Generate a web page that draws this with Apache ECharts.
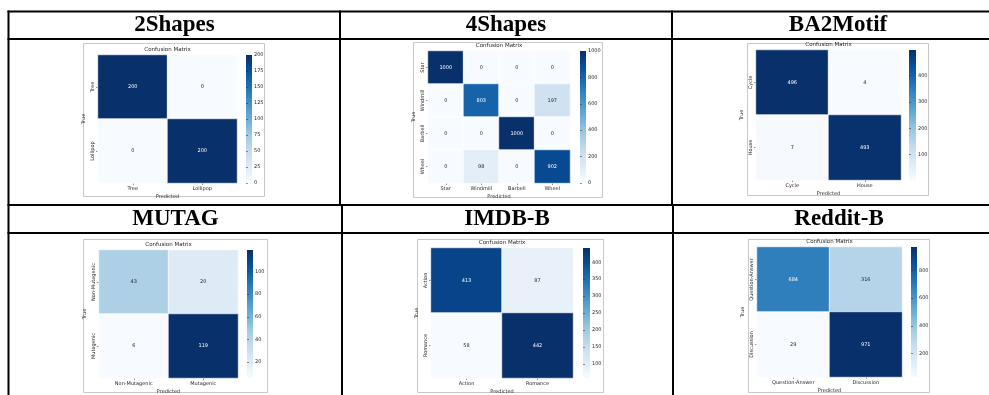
<!DOCTYPE html>
<html>
<head>
<meta charset="utf-8">
<script src="https://cdn.jsdelivr.net/npm/echarts@6/dist/echarts.min.js"></script>
<style>
  html, body { margin: 0; padding: 0; background: #fff; }
  #chart { width: 989px; height: 395px; }
</style>
</head>
<body>
<div id="chart"></div>
<script>
// Dataset captions shown in the table header cells
const datasetNames = ['2Shapes', '4Shapes', 'BA2Motif', 'MUTAG', 'IMDB-B', 'Reddit-B'];

// Class labels and confusion matrices (rows = true class, columns = predicted class)
const shapes2Labels = ['Tree', 'Lollipop'];
const shapes2Matrix = [[200, 0], [0, 200]];

const shapes4Labels = ['Star', 'Windmill', 'Barbell', 'Wheel'];
const shapes4Matrix = [[1000, 0, 0, 0], [0, 803, 0, 197], [0, 0, 1000, 0], [0, 98, 0, 902]];

const ba2Labels = ['Cycle', 'House'];
const ba2Matrix = [[496, 4], [7, 493]];

const mutagLabels = ['Non-Mutagenic', 'Mutagenic'];
const mutagMatrix = [[43, 20], [6, 119]];

const imdbLabels = ['Action', 'Romance'];
const imdbMatrix = [[413, 87], [58, 442]];

const redditLabels = ['Question-Answer', 'Discussion'];
const redditMatrix = [[684, 316], [29, 971]];

// Colorbar tick labels
const shapes2Ticks = [0, 25, 50, 75, 100, 125, 150, 175, 200];
const shapes4Ticks = [0, 200, 400, 600, 800, 1000];
const ba2Ticks = [100, 200, 300, 400];
const mutagTicks = [20, 40, 60, 80, 100];
const imdbTicks = [100, 150, 200, 250, 300, 350, 400];
const redditTicks = [200, 400, 600, 800];

const panels = [
  { labels: shapes2Labels, matrix: shapes2Matrix, ticks: shapes2Ticks },
  { labels: shapes4Labels, matrix: shapes4Matrix, ticks: shapes4Ticks },
  { labels: ba2Labels, matrix: ba2Matrix, ticks: ba2Ticks },
  { labels: mutagLabels, matrix: mutagMatrix, ticks: mutagTicks },
  { labels: imdbLabels, matrix: imdbMatrix, ticks: imdbTicks },
  { labels: redditLabels, matrix: redditMatrix, ticks: redditTicks }
];

// Placement of each figure: heatmap box [left, top, width, height],
// colorbar [left, width], outer frame [x, y, w, h]
const placement = [
  { box: [98, 55, 139, 128], bar: [246, 6], frame: [83, 43, 181, 153] },
  { box: [428, 51, 142, 132], bar: [580, 6], frame: [413, 42, 189, 155] },
  { box: [756, 50, 145, 130], bar: [909, 7], frame: [747, 43, 181, 152] },
  { box: [99, 250, 139, 128], bar: [247, 6], frame: [83, 239, 184, 153] },
  { box: [431, 248, 142, 130], bar: [583, 7], frame: [417, 239, 186, 153] },
  { box: [757, 247, 145, 130], bar: [911, 6], frame: [748, 239, 181, 153] }
];

// Table header centres
const headerCentres = [[174.5, 25], [506, 25], [838, 25], [175.5, 219], [507, 219], [839, 219]];

const blues = ['#f7fbff', '#deebf7', '#c6dbef', '#9ecae1', '#6baed6', '#4292c6', '#2171b5', '#08519c', '#08306b'];
const FONT = 'DejaVu Sans';
const TXT = '#262626';

const grids = [], xAxes = [], yAxes = [], series = [], visualMaps = [], graphics = [];

panels.forEach((p, i) => {
  const pl = placement[i];
  const [left, top, width, height] = pl.box;
  const flat = p.matrix.flat();
  const vmin = Math.min(...flat), vmax = Math.max(...flat);

  // heatmap grid
  grids.push({ left, top, width, height });
  // colorbar axis grid
  grids.push({ left: pl.bar[0], top, width: pl.bar[1], height });

  xAxes.push({
    type: 'category', gridIndex: 2 * i, data: p.labels, position: 'bottom',
    name: 'Predicted', nameLocation: 'middle', nameGap: 11,
    nameTextStyle: { fontFamily: FONT, fontSize: 5, color: TXT },
    axisLine: { show: false }, splitLine: { show: false },
    axisTick: { show: true, alignWithLabel: true, length: 2, lineStyle: { color: TXT, width: 0.5 } },
    axisLabel: { fontFamily: FONT, fontSize: 5, color: TXT, margin: 3 }
  });
  xAxes.push({ type: 'value', gridIndex: 2 * i + 1, show: false, min: 0, max: 1 });

  yAxes.push({
    type: 'category', gridIndex: 2 * i, data: p.labels, inverse: true,
    name: 'True', nameLocation: 'middle', nameGap: 12, nameRotate: 90,
    nameTextStyle: { fontFamily: FONT, fontSize: 5, color: TXT },
    axisLine: { show: false }, splitLine: { show: false },
    axisTick: { show: true, alignWithLabel: true, length: 2, lineStyle: { color: TXT, width: 0.5 } },
    axisLabel: { fontFamily: FONT, fontSize: 5, color: TXT, margin: 3, rotate: 90 }
  });
  yAxes.push({
    type: 'value', gridIndex: 2 * i + 1, position: 'right', min: vmin, max: vmax,
    axisLine: { show: false }, splitLine: { show: false },
    axisTick: { show: true, length: 2, customValues: p.ticks, lineStyle: { color: TXT, width: 0.5 } },
    axisLabel: {
      fontFamily: FONT, fontSize: 5, color: TXT, margin: 2, customValues: p.ticks,
      formatter: v => String(v)
    }
  });

  const data = [];
  p.matrix.forEach((row, r) => row.forEach((v, c) => {
    const dark = (v - vmin) / (vmax - vmin) > 0.5;
    data.push({ value: [c, r, v], label: { color: dark ? '#ffffff' : TXT } });
  }));

  series.push({
    type: 'heatmap', xAxisIndex: 2 * i, yAxisIndex: 2 * i, data,
    label: { show: true, fontFamily: FONT, fontSize: 5 },
    itemStyle: { borderColor: '#ffffff', borderWidth: 0.6 },
    emphasis: { disabled: true }
  });

  // colour mapping for the cells (the bar itself is drawn below)
  visualMaps.push({
    type: 'continuous', seriesIndex: i, min: vmin, max: vmax, show: false,
    inRange: { color: blues }
  });

  // colorbar: square gradient strip, top = max
  graphics.push({
    type: 'rect', shape: { x: pl.bar[0], y: top, width: pl.bar[1], height },
    style: {
      fill: new echarts.graphic.LinearGradient(0, 1, 0, 0,
        blues.map((c, k) => ({ offset: k / (blues.length - 1), color: c })))
    }
  });

  // outer figure frame
  const [fx, fy, fw, fh] = pl.frame;
  graphics.push({
    type: 'rect', shape: { x: fx + 0.5, y: fy + 0.5, width: fw, height: fh },
    style: { fill: 'none', stroke: '#c8c8c8', lineWidth: 1 }, z: -1
  });
  // figure title
  graphics.push({
    type: 'text', x: left + width / 2, y: top - 5,
    style: { text: 'Confusion Matrix', fontFamily: FONT, fontSize: 5.5, fill: TXT, align: 'center', verticalAlign: 'middle' }
  });
  // table header caption
  graphics.push({
    type: 'text', x: headerCentres[i][0], y: headerCentres[i][1],
    style: {
      text: datasetNames[i], fontFamily: 'Liberation Serif', fontWeight: 'bold', fontSize: 23,
      fill: '#000', align: 'center', verticalAlign: 'middle'
    }
  });
});

// table rules
const hLines = [11.5, 39, 205, 233];
hLines.forEach(y => graphics.push({
  type: 'line', shape: { x1: 7.5, y1: y, x2: 995, y2: y }, style: { stroke: '#000', lineWidth: 2 }
}));
const vLines = [[8.5, 10.5, 395], [340, 10.5, 206], [342, 204, 395], [672, 10.5, 206], [673, 204, 395]];
vLines.forEach(([x, y1, y2]) => graphics.push({
  type: 'line', shape: { x1: x, y1, x2: x, y2 }, style: { stroke: '#000', lineWidth: 2 }
}));

const chart = echarts.init(document.getElementById('chart'), null, { renderer: 'canvas' });
chart.setOption({
  animation: false,
  backgroundColor: '#ffffff',
  grid: grids,
  xAxis: xAxes,
  yAxis: yAxes,
  visualMap: visualMaps,
  series,
  graphic: graphics
});
</script>
</body>
</html>
